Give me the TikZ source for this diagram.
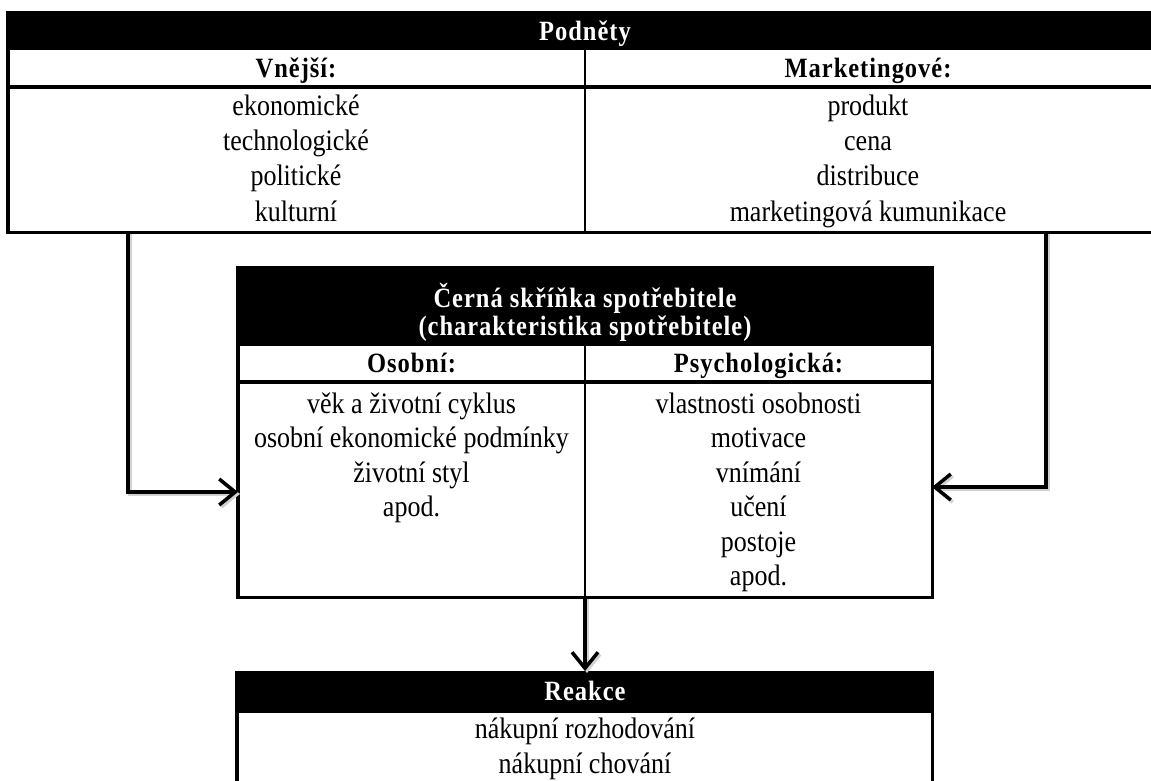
\documentclass[tikz,border=0pt]{standalone}
\usepackage{fontspec}
\usepackage{graphicx}
\setmainfont{Liberation Serif}
\newfontfamily\hdfont[LetterSpace=4]{Liberation Serif}
\usetikzlibrary{arrows.meta}
\newcommand{\tall}[1]{\scalebox{1}[1.14]{#1}}
\begin{document}
\begin{tikzpicture}[x=1pt,y=-1pt,
  txt/.style={font=\fontsize{26}{30}\selectfont, anchor=base, inner sep=0pt},
  hd/.style={font=\hdfont\bfseries\fontsize{24.5}{28}\selectfont, anchor=base, inner sep=0pt},
  hdw/.style={hd, text=white},
  blk/.style={fill=black, draw=none, inner sep=0pt, anchor=north west},
  area/.style={draw=none, inner sep=0pt, anchor=north west},
  border/.style={line width=3.5pt},
  divider/.style={line width=2pt},
  conn/.style={line width=4pt, -{Straight Barb[length=16pt,width=26pt,line width=3.5pt]}},
  shadow/.style={line width=4pt, draw=black!18, -{Straight Barb[length=16pt,width=26pt,line width=3.5pt]}},
]
\useasboundingbox (0,0) rectangle (1151,780);

% ---------- Top table: Podnety ----------
\node[blk, minimum width=1143pt, minimum height=39pt] (podhead) at (8,11) {};
\node[area, minimum width=1143pt, minimum height=182pt] (podtab) at (8,50) {};
\node[hdw] (podtitle) at (585,40) {\tall{Podněty}};
\draw[border] (podhead.north west) -- (podtab.south west) -- (podtab.south east);
\draw[border] (8,87) -- (1151,87);
\draw[divider] (585,50) -- (585,232);
\node[hd] (vnejsi) at (296,77) {\tall{Vnější:}};
\node[hd] (mark) at (868,77) {\tall{Marketingové:}};
\node[txt] (v1) at (296,115) {\tall{ekonomické}};
\node[txt] (v2) at (296,150) {\tall{technologické}};
\node[txt] (v3) at (296,185.5) {\tall{politické}};
\node[txt] (v4) at (296,221) {\tall{kulturní}};
\node[txt] (m1) at (868,115) {\tall{produkt}};
\node[txt] (m2) at (868,150) {\tall{cena}};
\node[txt] (m3) at (868,185.5) {\tall{distribuce}};
\node[txt] (m4) at (868,221) {\tall{marketingová kumunikace}};

% ---------- Middle box ----------
\node[blk, minimum width=694pt, minimum height=78pt] (cbhead) at (238,268) {};
\node[area, minimum width=694pt, minimum height=329pt] (cbox) at (238,268) {};
\draw[border] (cbox.north west) rectangle (cbox.south east);
\draw[border] (238,382) -- (932,382);
\draw[divider] (585,346) -- (585,597);
\node[hdw] (cbt1) at (585,307) {\tall{Černá skříňka spotřebitele}};
\node[hdw] (cbt2) at (585,335) {\tall{(charakteristika spotřebitele)}};
\node[hd] (osob) at (411.5,372) {\tall{Osobní:}};
\node[hd] (psych) at (758.5,372) {\tall{Psychologická:}};
\node[txt] (o1) at (411.5,413) {\tall{věk a životní cyklus}};
\node[txt] (o2) at (411.5,447.5) {\tall{osobní ekonomické podmínky}};
\node[txt] (o3) at (411.5,482) {\tall{životní styl}};
\node[txt] (o4) at (411.5,516.5) {\tall{apod.}};
\node[txt] (p1) at (758.5,413) {\tall{vlastnosti osobnosti}};
\node[txt] (p2) at (758.5,447.5) {\tall{motivace}};
\node[txt] (p3) at (758.5,482) {\tall{vnímání}};
\node[txt] (p4) at (758.5,516.5) {\tall{učení}};
\node[txt] (p5) at (758.5,551) {\tall{postoje}};
\node[txt] (p6) at (758.5,585.5) {\tall{apod.}};

% ---------- Bottom box: Reakce ----------
\node[blk, minimum width=695pt, minimum height=42pt] (rhead) at (237,671) {};
\node[area, minimum width=695pt, minimum height=112pt] (rbox) at (237,671) {};
\draw[border] (rbox.north west) -- (rbox.south west);
\draw[border] (rbox.north east) -- (rbox.south east);
\node[hdw] (rtitle) at (585,700) {\tall{Reakce}};
\node[txt] (r1) at (585,738) {\tall{nákupní rozhodování}};
\node[txt] (r2) at (585,773) {\tall{nákupní chování}};

% ---------- Connectors ----------
\coordinate (lA) at (128,232);
\coordinate (lB) at (238,492);
\coordinate (rA) at (1046,232);
\coordinate (rB) at (932,487);
\coordinate (dA) at (585,597);
\coordinate (dB) at (585,671);
\draw[shadow, transform canvas={shift={(2pt,-2pt)}}] (lA) |- (lB);
\draw[shadow, transform canvas={shift={(2pt,-2pt)}}] (rA) |- (rB);
\draw[shadow, transform canvas={shift={(2pt,-2pt)}}] (dA) -- (dB);
\draw[conn] (lA) |- (lB);
\draw[conn] (rA) |- (rB);
\draw[conn] (dA) -- (dB);
\end{tikzpicture}
\end{document}
